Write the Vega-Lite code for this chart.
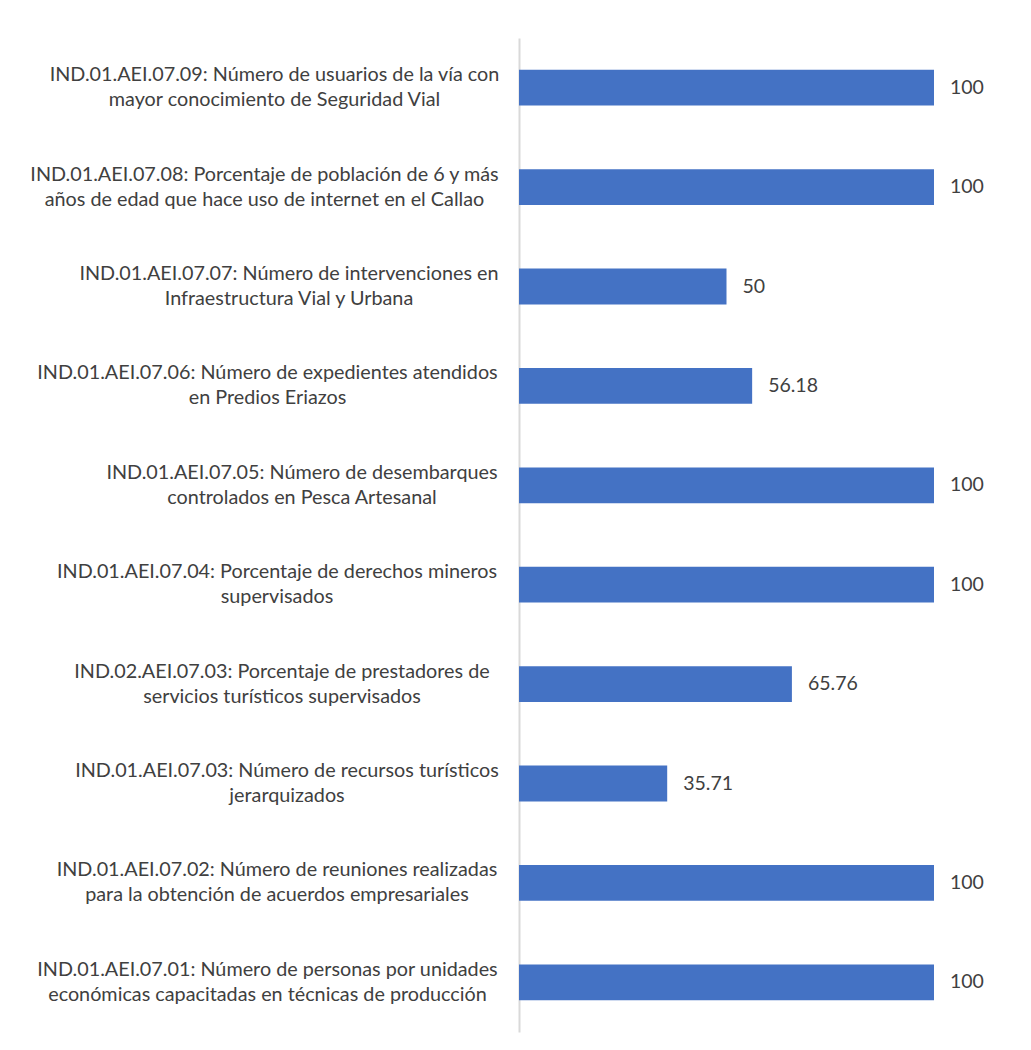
{
  "$schema": "https://vega.github.io/schema/vega-lite/v6.json",
  "width": 415,
  "height": 994,
  "autosize": {"type": "none"},
  "padding": {"left": 519, "top": 38, "right": 97, "bottom": 18},
  "background": "white",
  "data": {
    "values": [
      {"indicador": "IND.01.AEI.07.09: Número de usuarios de la vía con\nmayor conocimiento de Seguridad Vial", "valor": 100},
      {"indicador": "IND.01.AEI.07.08: Porcentaje de población de 6 y más\naños de edad que hace uso de internet en el Callao", "valor": 100},
      {"indicador": "IND.01.AEI.07.07: Número de intervenciones en\nInfraestructura Vial y Urbana", "valor": 50},
      {"indicador": "IND.01.AEI.07.06: Número de expedientes atendidos\nen Predios Eriazos", "valor": 56.18},
      {"indicador": "IND.01.AEI.07.05: Número de desembarques\ncontrolados en Pesca Artesanal", "valor": 100},
      {"indicador": "IND.01.AEI.07.04: Porcentaje de derechos mineros\nsupervisados", "valor": 100},
      {"indicador": "IND.02.AEI.07.03: Porcentaje de prestadores de\nservicios turísticos supervisados", "valor": 65.76},
      {"indicador": "IND.01.AEI.07.03: Número de recursos turísticos\njerarquizados", "valor": 35.71},
      {"indicador": "IND.01.AEI.07.02: Número de reuniones realizadas\npara la obtención de acuerdos empresariales", "valor": 100},
      {"indicador": "IND.01.AEI.07.01: Número de personas por unidades\neconómicas capacitadas en técnicas de producción", "valor": 100}
    ]
  },
  "encoding": {
    "y": {
      "field": "indicador",
      "type": "nominal",
      "sort": null,
      "scale": {"paddingInner": 0.64, "paddingOuter": 0.32},
      "axis": {
        "title": null,
        "ticks": false,
        "tickSize": 0,
        "domainColor": "#d9d9d9",
        "domainWidth": 2,
        "labelFont": "Lato",
        "labelFontSize": 19.8,
        "labelColor": "#404040",
        "labelAlign": "center",
        "labelBaseline": "middle",
        "labelLineHeight": 25,
        "labelOffset": -12.5,
        "labelLimit": 600,
        "labelExpr": "split(datum.label, '\\n')",
        "labelPadding": {
          "condition": [
            {"test": "indexof(datum.value, 'IND.01.AEI.07.09') === 0", "value": 245},
            {"test": "indexof(datum.value, 'IND.01.AEI.07.08') === 0", "value": 255},
            {"test": "indexof(datum.value, 'IND.01.AEI.07.07') === 0", "value": 230.5},
            {"test": "indexof(datum.value, 'IND.01.AEI.07.06') === 0", "value": 252},
            {"test": "indexof(datum.value, 'IND.01.AEI.07.05') === 0", "value": 217.5},
            {"test": "indexof(datum.value, 'IND.01.AEI.07.04') === 0", "value": 242.5},
            {"test": "indexof(datum.value, 'IND.02.AEI.07.03') === 0", "value": 237.5},
            {"test": "indexof(datum.value, 'IND.01.AEI.07.03') === 0", "value": 232.5},
            {"test": "indexof(datum.value, 'IND.01.AEI.07.02') === 0", "value": 242.5}
          ],
          "value": 252
        }
      }
    },
    "x": {
      "field": "valor",
      "type": "quantitative",
      "scale": {"domain": [0, 100], "nice": false},
      "axis": null
    }
  },
  "layer": [
    {"mark": {"type": "bar", "color": "#4472C4"}},
    {
      "mark": {"type": "text", "align": "left", "baseline": "middle", "dx": 16, "font": "Lato", "fontSize": 19.5, "color": "#404040"},
      "encoding": {"text": {"field": "valor", "type": "quantitative"}}
    }
  ],
  "config": {"view": {"stroke": null}}
}
